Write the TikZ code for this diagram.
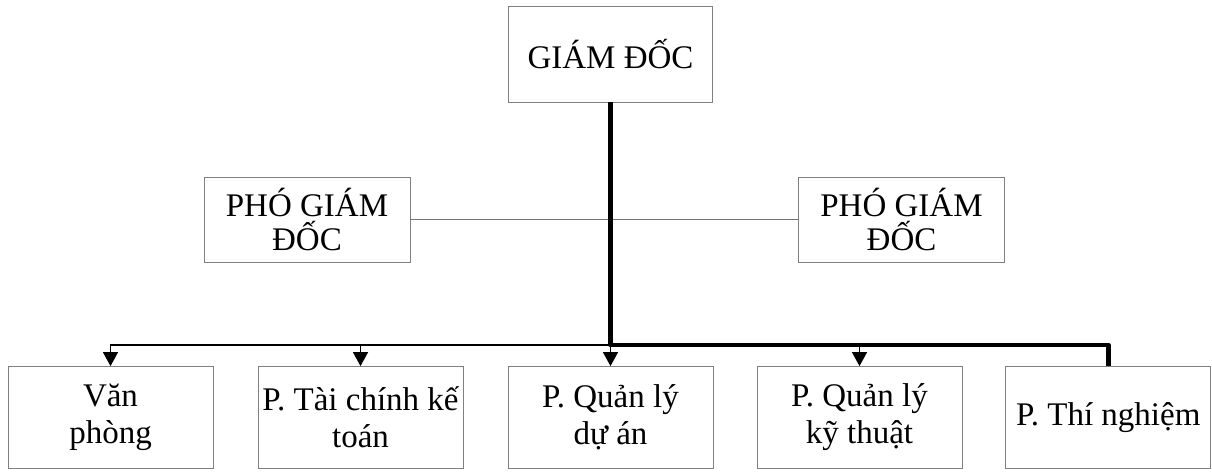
\documentclass[tikz,border=0pt]{standalone}
\usepackage{fontspec}
\setmainfont{Liberation Serif}
\usetikzlibrary{arrows.meta}
\begin{document}
\begin{tikzpicture}[x=1pt,y=-1pt,
  box/.style={draw=black!50,line width=0.9pt,fill=white,inner sep=0pt,
    align=center,font=\fontsize{33}{36.5}\selectfont},
  topbox/.style={box,minimum width=204pt,minimum height=96pt},
  vicebox/.style={box,minimum width=206pt,minimum height=85pt,
    font=\fontsize{33}{33.5}\selectfont},
  deptbox/.style={box,minimum width=205pt,minimum height=101.5pt},
  thinlink/.style={draw=black!55,line width=1.4pt},
  arr/.style={draw=black,line width=1.3pt,-{Triangle[width=15pt,length=14pt]}},
  trunk/.style={draw=black,line width=4.7pt,line join=round}]
\useasboundingbox (0,0) rectangle (1212,472);

% director and deputies
\node[topbox] (gd) at (610.5,54) {GIÁM ĐỐC};
\node[vicebox] (pl) at (307,219.5) {PHÓ GIÁM\\ĐỐC};
\node[vicebox] (pr) at (901.5,219.5) {PHÓ GIÁM\\ĐỐC};

% departments
\node[deptbox] (vp) at (110.5,417.3) {Văn\\phòng};
\node[deptbox] (tc) at (360.5,417.3) {P. Tài chính kế\\toán};
\node[deptbox] (da) at (610.5,417.3) {P. Quản lý\\dự án};
\node[deptbox] (kt) at (859.5,417.3) {P. Quản lý\\kỹ thuật};
\node[deptbox] (tn) at (1108.3,417.3) {P. Thí nghiệm};

\coordinate (bus) at (610.5,345);

% link between the two deputies
\draw[thinlink] (pl.east) -- (pr.west);

% thin branches with arrows
\draw[arr] (bus) -| (vp.north);
\draw[arr] (bus) -| (tc.north);
\draw[arr] (bus) -- (da.north);
\draw[arr] (bus) -| (kt.north);

% main trunk
\draw[trunk] (gd.south) -- (bus) -| (tn.north);
\end{tikzpicture}
\end{document}
